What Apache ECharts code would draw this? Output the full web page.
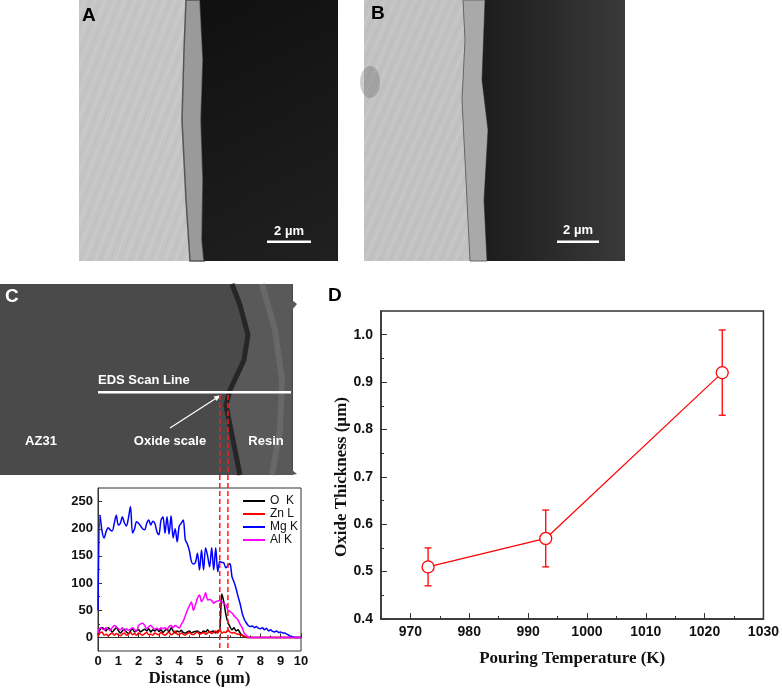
<!DOCTYPE html>
<html><head><meta charset="utf-8">
<script src="https://cdn.jsdelivr.net/npm/echarts@6/dist/echarts.min.js"></script>
<style>html,body{margin:0;padding:0;background:#fff}#c{width:782px;height:693px}</style>
</head><body><div id="c"></div><script>
// ---------- Panel C (EDS line scan) data ----------
const edsDistance = [0,0.1,0.2,0.3,0.4,0.5,0.6,0.7,0.8,0.9,
 1,1.1,1.2,1.3,1.4,1.5,1.6,1.7,1.8,1.9,
 2,2.1,2.2,2.3,2.4,2.5,2.6,2.7,2.8,2.9,
 3,3.1,3.2,3.3,3.4,3.5,3.6,3.7,3.8,3.9,
 4,4.1,4.2,4.3,4.4,4.5,4.6,4.7,4.8,4.9,
 5,5.1,5.2,5.3,5.4,5.5,5.6,5.7,5.8,5.9,
 6,6.1,6.2,6.3,6.4,6.5,6.6,6.7,6.8,6.9,
 7,7.1,7.2,7.3,7.4,7.5,7.6,7.7,7.8,7.9,
 8,8.1,8.2,8.3,8.4,8.5,8.6,8.7,8.8,8.9,
 9,9.1,9.2,9.3,9.4,9.5,9.6,9.7,9.8,9.9,10];
const edsO = [5,15,18,16,12,18,15,10,14,18,
 13,8,12,15,10,7,12,16,10,12,
 14,10,13,15,12,16,10,14,12,16,
 11,14,9,13,15,10,18,12,8,12,
 10,13,9,8,10,12,8,10,11,12,
 9,8,12,10,14,9,11,12,8,12,
 14,80,65,42,28,20,14,18,12,14,
 8,4,2,0,0,0,0,0,0,0,
 0,0,0,0,0,0,0,0,0,0,
 0,0,0,0,0,0,0,0,0,0,0];
const edsZn = [2,8,10,4,6,3,6,8,4,7,
 5,3,6,8,4,6,9,5,7,4,
 8,6,4,7,9,5,6,4,8,6,
 5,9,6,4,7,10,5,7,12,6,
 5,8,6,4,7,9,6,5,8,10,
 6,7,9,6,8,11,7,9,12,8,
 15,8,10,9,14,10,8,9,7,6,
 5,4,2,1,0,0,0,0,0,0,
 0,0,0,0,0,0,0,0,0,0,
 0,0,0,0,0,0,0,0,0,0,0];
const edsMg = [50,225,195,183,195,202,198,196,210,225,
 207,210,222,211,205,220,241,192,200,213,
 210,205,200,198,210,216,207,214,210,195,
 189,215,222,192,222,190,224,183,200,176,
 205,210,216,180,172,160,140,135,138,155,
 124,161,124,165,150,130,165,124,165,121,
 140,138,137,128,132,136,112,102,90,75,
 62,45,34,27,22,20,21,18,20,17,
 16,18,14,17,12,14,11,10,12,9,
 10,8,8,6,4,2,1,0,0,0,0];
const edsAl = [8,18,16,14,18,15,13,18,22,20,
 16,14,18,12,16,13,15,18,14,12,
 22,25,26,22,16,20,22,18,15,17,
 14,18,16,18,15,20,22,18,22,20,
 17,24,30,40,50,58,65,50,60,72,
 78,66,72,82,69,70,68,63,66,67,
 68,66,62,60,50,48,45,40,36,32,
 24,18,8,4,1,0,0,0,0,0,
 0,0,0,0,0,0,0,0,0,0,
 0,0,0,0,0,0,0,0,0,0,0];
const edsNames = ['O  K','Zn L','Mg K','Al K'];
const edsColors = ['#000000','#ff0000','#0000ff','#ff00ff'];
const edsXTicks = [0,1,2,3,4,5,6,7,8,9,10];
const edsXMinor = [0.5,1.5,2.5,3.5,4.5,5.5,6.5,7.5,8.5,9.5];
const edsYTicks = [0,50,100,150,200,250];
const edsYMinor = [25,75,125,175,225];
const oxideBounds = [6.0, 6.4];

// ---------- Panel D data ----------
const dTemp = [973, 993, 1023];
const dThick = [0.51, 0.57, 0.92];
const dLow = [0.47, 0.51, 0.83];
const dHigh = [0.55, 0.63, 1.01];
const dXTicks = [970,980,990,1000,1010,1020,1030];
const dXMinor = [975,985,995,1005,1015,1025];
const dYTicks = [0.4,0.5,0.6,0.7,0.8,0.9,1.0];
const dYMinor = [0.45,0.55,0.65,0.75,0.85,0.95];

const SANS = 'Liberation Sans, Arial, sans-serif';
const SERIF = 'Liberation Serif, Times New Roman, serif';
const AX = '#333';

const chart = echarts.init(document.getElementById('c'));

function pair(xs, ys){ return xs.map((x,i)=>[x, ys[i]]); }

const tickLab = {fontFamily:SANS, fontWeight:'bold', color:'#111'};

const option = {
  animation:false,
  backgroundColor:'#fff',
  grid:[
    {left:98, top:488, width:203, height:163, show:true, borderColor:AX, borderWidth:1, backgroundColor:'transparent'},
    {left:381, top:311, width:383, height:308, show:true, borderColor:AX, borderWidth:1.5, backgroundColor:'transparent'}
  ],
  xAxis:[
    {type:'value', gridIndex:0, min:0, max:10,
     name:'Distance (µm)', nameLocation:'middle', nameGap:19,
     nameTextStyle:{fontFamily:SERIF, fontWeight:'bold', fontSize:17, color:'#111'},
     axisLine:{lineStyle:{color:AX, width:1}},
     axisTick:{inside:true, length:4, customValues:edsXTicks, lineStyle:{color:AX}},
     axisLabel:{customValues:edsXTicks, margin:4, fontSize:13, ...tickLab, formatter:v=>String(v)},
     splitLine:{show:false}},
    {type:'value', gridIndex:0, min:0, max:10, position:'bottom',
     axisLine:{show:false},
     axisTick:{inside:true, length:2, customValues:edsXMinor, lineStyle:{color:AX}},
     axisLabel:{show:false}, splitLine:{show:false}},
    {type:'value', gridIndex:1, min:965, max:1030,
     name:'Pouring Temperature (K)', nameLocation:'middle', nameGap:31,
     nameTextStyle:{fontFamily:SERIF, fontWeight:'bold', fontSize:17, color:'#111'},
     axisLine:{lineStyle:{color:AX, width:1.5}},
     axisTick:{inside:true, length:6, customValues:dXTicks, lineStyle:{color:AX}},
     axisLabel:{customValues:dXTicks, margin:6, fontSize:14, ...tickLab, formatter:v=>String(v)},
     splitLine:{show:false}},
    {type:'value', gridIndex:1, min:965, max:1030, position:'bottom',
     axisLine:{show:false},
     axisTick:{inside:true, length:3, customValues:dXMinor, lineStyle:{color:AX}},
     axisLabel:{show:false}, splitLine:{show:false}}
  ],
  yAxis:[
    {type:'value', gridIndex:0, min:-25, max:275,
     axisLine:{show:true, lineStyle:{color:AX, width:1}},
     axisTick:{show:true, inside:true, length:4, customValues:edsYTicks, lineStyle:{color:AX}},
     axisLabel:{customValues:edsYTicks, margin:5, fontSize:13, ...tickLab, formatter:v=>String(v)},
     splitLine:{show:false}},
    {type:'value', gridIndex:0, min:-25, max:275, position:'left',
     axisLine:{show:false},
     axisTick:{show:true, inside:true, length:2, customValues:edsYMinor, lineStyle:{color:AX}},
     axisLabel:{show:false}, splitLine:{show:false}},
    {type:'value', gridIndex:1, min:0.4, max:1.05,
     name:'Oxide Thickness (µm)', nameLocation:'middle', nameGap:30, nameRotate:90,
     nameTextStyle:{fontFamily:SERIF, fontWeight:'bold', fontSize:17, color:'#111', padding:[0,24,0,0]},
     axisLine:{show:true, lineStyle:{color:AX, width:1.5}},
     axisTick:{show:true, inside:true, length:6, customValues:dYTicks, lineStyle:{color:AX}},
     axisLabel:{customValues:dYTicks, margin:8, fontSize:14, ...tickLab, formatter:v=>v.toFixed(1)},
     splitLine:{show:false}},
    {type:'value', gridIndex:1, min:0.4, max:1.05, position:'left',
     axisLine:{show:false},
     axisTick:{show:true, inside:true, length:3, customValues:dYMinor, lineStyle:{color:AX}},
     axisLabel:{show:false}, splitLine:{show:false}}
  ],
  legend:{
    data:edsNames.map(n=>({name:n, icon:'rect'})), orient:'vertical', left:243, top:495,
    itemWidth:22, itemHeight:2, itemGap:1, padding:0,
    textStyle:{fontFamily:SANS, fontSize:12, color:'#111', lineHeight:12},
    selectedMode:false
  },
  series:[
    ...[edsO, edsZn, edsMg, edsAl].map((arr, k)=>({
      name:edsNames[k], type:'line', xAxisIndex:0, yAxisIndex:0,
      data:pair(edsDistance, arr), showSymbol:false, symbol:'none', smooth:0.3,
      lineStyle:{color:edsColors[k], width:1.5}, itemStyle:{color:edsColors[k]},
      z:2+k
    })),
    {type:'custom', xAxisIndex:2, yAxisIndex:2, z:1,
     data:dTemp.map((t,i)=>[t, dLow[i], dHigh[i]]),
     encode:{x:0, y:[1,2]},
     renderItem:(params, api)=>{
       const x = api.value(0);
       const a = api.coord([x, api.value(1)]);
       const b = api.coord([x, api.value(2)]);
       const w = 3.5;
       const st = {stroke:'#ff0000', lineWidth:1.3};
       return {type:'group', children:[
         {type:'line', shape:{x1:a[0], y1:a[1], x2:b[0], y2:b[1]}, style:st},
         {type:'line', shape:{x1:a[0]-w, y1:a[1], x2:a[0]+w, y2:a[1]}, style:st},
         {type:'line', shape:{x1:b[0]-w, y1:b[1], x2:b[0]+w, y2:b[1]}, style:st}
       ]};
     }},
    {type:'line', xAxisIndex:2, yAxisIndex:2, z:5,
     data:pair(dTemp, dThick), symbol:'circle', symbolSize:12,
     lineStyle:{color:'#ff0000', width:1.2},
     itemStyle:{color:'#ffffff', borderColor:'#ff0000', borderWidth:1.3}}
  ]
};
chart.setOption(option);

// ---------- decorative micrographs (graphic) ----------
const g = [];
function stripes(x0, x1, y0, y1, from, to, step, slant){
  for (let xb = from; xb <= to; xb += step){
    let ax = xb, ay = y1, bx = xb + slant, by = y0;
    const H = y1 - y0;
    if (ax < x0){ ay = y1 - (x0-ax)/slant*H; ax = x0; }
    if (bx > x1){ by = y1 - (x1-xb)/slant*H; bx = x1; }
    if (ay <= by) continue;
    g.push({type:'line', shape:{x1:ax, y1:ay, x2:bx, y2:by}, silent:true,
      style:{stroke: ((xb/step)|0)%2 ? 'rgba(255,255,255,0.18)' : 'rgba(0,0,0,0.035)', lineWidth:1}});
  }
}
// Panel A
g.push({type:'rect', shape:{x:79,y:0,width:259,height:261}, style:{fill:'#c5c5c5'}});
stripes(79, 192, 0, 261, -40, 190, 5, 100);
g.push({type:'polygon', shape:{points:[[186,0],[200,0],[203,60],[201,120],[203,180],[202,240],[204,261],[190,261],[186,200],[182,120],[184,50]]},
  style:{fill:'#9a9a9a', stroke:'#555', lineWidth:1.5}});
g.push({type:'polygon', shape:{points:[[200,0],[338,0],[338,261],[204,261],[202,240],[203,180],[201,120],[203,60]]},
  style:{fill:new echarts.graphic.LinearGradient(0,0,1,1,[{offset:0,color:'#101010'},{offset:1,color:'#202020'}])}});
g.push({type:'rect', shape:{x:267,y:240.5,width:44,height:2.5}, style:{fill:'#fff'}});
g.push({type:'text', x:289, y:231, style:{text:'2 µm', fill:'#fff', font:'bold 13px '+SANS, textAlign:'center', textVerticalAlign:'middle'}});
g.push({type:'text', x:82, y:6, style:{text:'A', fill:'#000', font:'bold 19px '+SANS}});
// Panel B
g.push({type:'rect', shape:{x:364,y:0,width:261,height:261}, style:{fill:'#c2c2c2'}});
stripes(364, 466, 0, 261, 250, 466, 5, 110);
g.push({type:'ellipse', shape:{cx:370, cy:82, rx:10, ry:16}, style:{fill:'rgba(90,90,90,0.3)'}});
g.push({type:'polygon', shape:{points:[[463,0],[485,0],[482,80],[488,130],[484,200],[487,261],[470,261],[466,180],[462,100],[465,40]]},
  style:{fill:'#a9a9a9', stroke:'#666', lineWidth:1}});
g.push({type:'polygon', shape:{points:[[485,0],[625,0],[625,261],[487,261],[484,200],[488,130],[482,80]]},
  style:{fill:new echarts.graphic.LinearGradient(0,0,1,0,[{offset:0,color:'#1c1c1c'},{offset:0.35,color:'#262626'},{offset:1,color:'#3a3a3a'}])}});
g.push({type:'rect', shape:{x:557,y:240.5,width:42,height:2.5}, style:{fill:'#fff'}});
g.push({type:'text', x:578, y:230, style:{text:'2 µm', fill:'#fff', font:'bold 13px '+SANS, textAlign:'center', textVerticalAlign:'middle'}});
g.push({type:'text', x:371, y:4, style:{text:'B', fill:'#000', font:'bold 19px '+SANS}});
// Panel C
g.push({type:'rect', shape:{x:0,y:284,width:293,height:191}, style:{fill:'#4a4a4a'}});
g.push({type:'polygon', shape:{points:[[232,284],[292,284],[292,300],[297,304],[292,310],[292,470],[297,474],[292,475],[240,475],[233,440],[226,405],[230,390],[244,360],[248,335],[240,305]]},
  style:{fill:'#595959'}});
g.push({type:'polyline', shape:{points:[[262,284],[275,330],[282,380],[280,430],[272,475]]}, style:{stroke:'rgba(120,120,120,0.5)', lineWidth:6}});
g.push({type:'polyline', shape:{points:[[232,284],[240,305],[248,335],[244,360],[230,390],[226,405],[233,440],[240,475]]}, style:{stroke:'#262626', lineWidth:5}});
g.push({type:'text', x:5, y:287, style:{text:'C', fill:'#fff', font:'bold 19px '+SANS}});
g.push({type:'rect', shape:{x:98,y:391,width:193,height:2.5}, style:{fill:'#fff'}});
g.push({type:'text', x:98, y:380, style:{text:'EDS Scan Line', fill:'#fff', font:'bold 13px '+SANS, textVerticalAlign:'middle'}});
(function(){
  const sx=170, sy=428, tx=221, ty=395;
  const L = Math.hypot(tx-sx, ty-sy), dx=(tx-sx)/L, dy=(ty-sy)/L, px=-dy, py=dx;
  g.push({type:'line', shape:{x1:sx,y1:sy,x2:tx-dx*4,y2:ty-dy*4}, style:{stroke:'#fff', lineWidth:1.2}});
  g.push({type:'polygon', shape:{points:[[tx,ty],[tx-dx*7+px*2.6,ty-dy*7+py*2.6],[tx-dx*7-px*2.6,ty-dy*7-py*2.6]]}, style:{fill:'#fff'}});
})();
[['AZ31',41],['Oxide scale',170],['Resin',266]].forEach(([t,x])=>{
  g.push({type:'text', x:x, y:441, style:{text:t, fill:'#fff', font:'bold 13px '+SANS, textAlign:'center', textVerticalAlign:'middle'}});
});
// Panel D label
g.push({type:'text', x:328, y:286, style:{text:'D', fill:'#000', font:'bold 19px '+SANS}});
// oxide bounds dashed lines (from data via axis scale)
oxideBounds.forEach(d=>{
  const px = chart.convertToPixel({xAxisIndex:0}, d);
  g.push({type:'line', z:100, shape:{x1:px, y1:395, x2:px, y2:651},
    style:{stroke:'#ff1a1a', lineWidth:1.5, lineDash:[5,3]}});
});
chart.setOption({graphic:g});
</script></body></html>
